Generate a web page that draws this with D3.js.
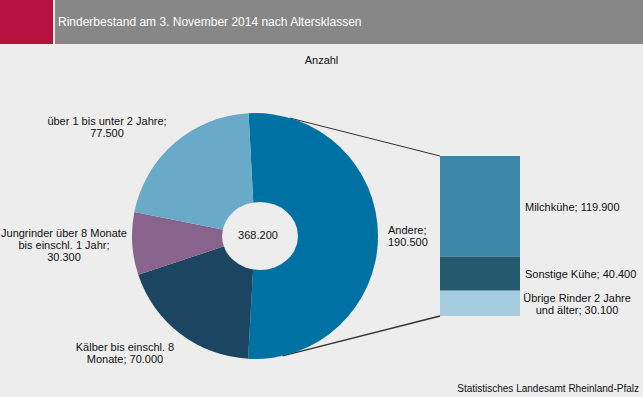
<!DOCTYPE html>
<html>
<head>
<meta charset="utf-8">
<script src="https://cdn.jsdelivr.net/npm/d3@7"></script>
<style>
  body { margin: 0; background: #ecedec; }
  svg { display: block; font-family: 'Liberation Sans', Arial, sans-serif; }
</style>
</head>
<body>
<div id="chart"></div>
<script>
const title = 'Rinderbestand am 3. November 2014 nach Altersklassen'
const unit = 'Anzahl'
const source = 'Statistisches Landesamt Rheinland-Pfalz'

// published total (rounded figures do not add up exactly)
const totalValue = 368200

const pieNames = [
  ['Andere;'],
  ['Kälber bis einschl. 8', 'Monate;'],
  ['Jungrinder über 8 Monate', 'bis einschl. 1 Jahr;'],
  ['über 1 bis unter 2 Jahre;']
]
const pieValues = [190500, 70000, 30300, 77500]
const pieColors = ['#0071a3', '#1b4560', '#88648c', '#68aac8']

const barNames = [['Milchkühe;'], ['Sonstige Kühe;'], ['Übrige Rinder 2 Jahre', 'und älter;']]
const barValues = [119900, 40400, 30100]
const barColors = ['#3a86a6', '#25596e', '#a6ccdf']

const W = 643
const H = 397
const PIE = { CX: 255, CY: 236, R: 123 }
const BAR = { X: 440, W: 80, TOP: 156, BOTTOM: 316 }

const de = d3.formatLocale({ decimal: ',', thousands: '.', grouping: [3], currency: ['', ' €'] })
const fmt = de.format(',d')

const svg = d3.select('#chart').append('svg')
  .attr('width', W)
  .attr('height', H)

svg.append('rect').attr('width', W).attr('height', H).attr('fill', '#ecedec')

// header
svg.append('rect').attr('x', 0).attr('y', 0).attr('width', 53).attr('height', 44).attr('fill', '#b5123f')
svg.append('rect').attr('x', 55).attr('y', 0).attr('width', W - 55).attr('height', 44).attr('fill', '#878787')
svg.append('text')
  .attr('x', 58).attr('y', 26)
  .attr('fill', '#fff')
  .attr('font-size', '12px')
  .text(title)

svg.append('text')
  .attr('x', W / 2).attr('y', 64)
  .attr('text-anchor', 'middle')
  .attr('font-size', '11px')
  .attr('fill', '#111')
  .text(unit)

// connector lines (drawn under the pie)
const deg = Math.PI / 180
const edge = a => [PIE.CX + PIE.R * Math.sin(a * deg), PIE.CY - PIE.R * Math.cos(a * deg)]
const p1 = edge(16.5), p2 = edge(167)
svg.append('line')
  .attr('x1', p1[0]).attr('y1', p1[1]).attr('x2', BAR.X).attr('y2', BAR.TOP)
  .attr('stroke', '#333').attr('stroke-width', 1)
svg.append('line')
  .attr('x1', p2[0]).attr('y1', p2[1]).attr('x2', BAR.X).attr('y2', BAR.BOTTOM)
  .attr('stroke', '#333').attr('stroke-width', 1.4)

// pie
const pie = d3.pie().sort(null)
  .startAngle(-3 * deg)
  .endAngle(357 * deg)
const arc = d3.arc().innerRadius(0).outerRadius(PIE.R)

const pg = svg.append('g').attr('transform', `translate(${PIE.CX}, ${PIE.CY})`)
pg.selectAll('path')
  .data(pie(pieValues))
  .enter()
  .append('path')
  .attr('d', arc)
  .attr('fill', (d, i) => pieColors[i])

// hole
svg.append('ellipse')
  .attr('cx', 260).attr('cy', 236)
  .attr('rx', 38).attr('ry', 34)
  .attr('fill', '#ecedec')

svg.append('text')
  .attr('x', 258).attr('y', 239)
  .attr('text-anchor', 'middle')
  .attr('font-size', '11px')
  .attr('fill', '#111')
  .text(fmt(totalValue))

// bar
const y = d3.scaleLinear()
  .domain([0, d3.sum(barValues)])
  .range([BAR.TOP, BAR.BOTTOM])
const cum = d3.cumsum(barValues)

svg.selectAll('.bar')
  .data(barValues)
  .enter()
  .append('rect')
  .attr('class', 'bar')
  .attr('x', BAR.X)
  .attr('width', BAR.W)
  .attr('y', (d, i) => y(cum[i] - d))
  .attr('height', d => y(d) - y(0))
  .attr('fill', (d, i) => barColors[i])

// labels
function drawLabel(rows, x, y0, anchor) {
  const t = svg.append('text')
    .attr('text-anchor', anchor)
    .attr('font-size', '11px')
    .attr('fill', '#111')
  rows.forEach((r, i) => {
    t.append('tspan').attr('x', x).attr('y', y0 + i * 12).text(r)
  })
}

const v = i => fmt(pieValues[i])
drawLabel([pieNames[0][0], v(0)], 388, 234, 'start')
drawLabel([pieNames[1][0], pieNames[1][1] + ' ' + v(1)], 125, 351, 'middle')
drawLabel([pieNames[2][0], pieNames[2][1], v(2)], 64, 237, 'middle')
drawLabel([pieNames[3][0], v(3)], 107, 125, 'middle')

const bv = i => fmt(barValues[i])
drawLabel([barNames[0][0] + ' ' + bv(0)], 525, 211, 'start')
drawLabel([barNames[1][0] + ' ' + bv(1)], 525, 278, 'start')
drawLabel([barNames[2][0], barNames[2][1] + ' ' + bv(2)], 577, 302, 'middle')

svg.append('text')
  .attr('x', 639).attr('y', 392)
  .attr('text-anchor', 'end')
  .attr('font-size', '10px')
  .attr('fill', '#111')
  .text(source)
</script>
</body>
</html>
